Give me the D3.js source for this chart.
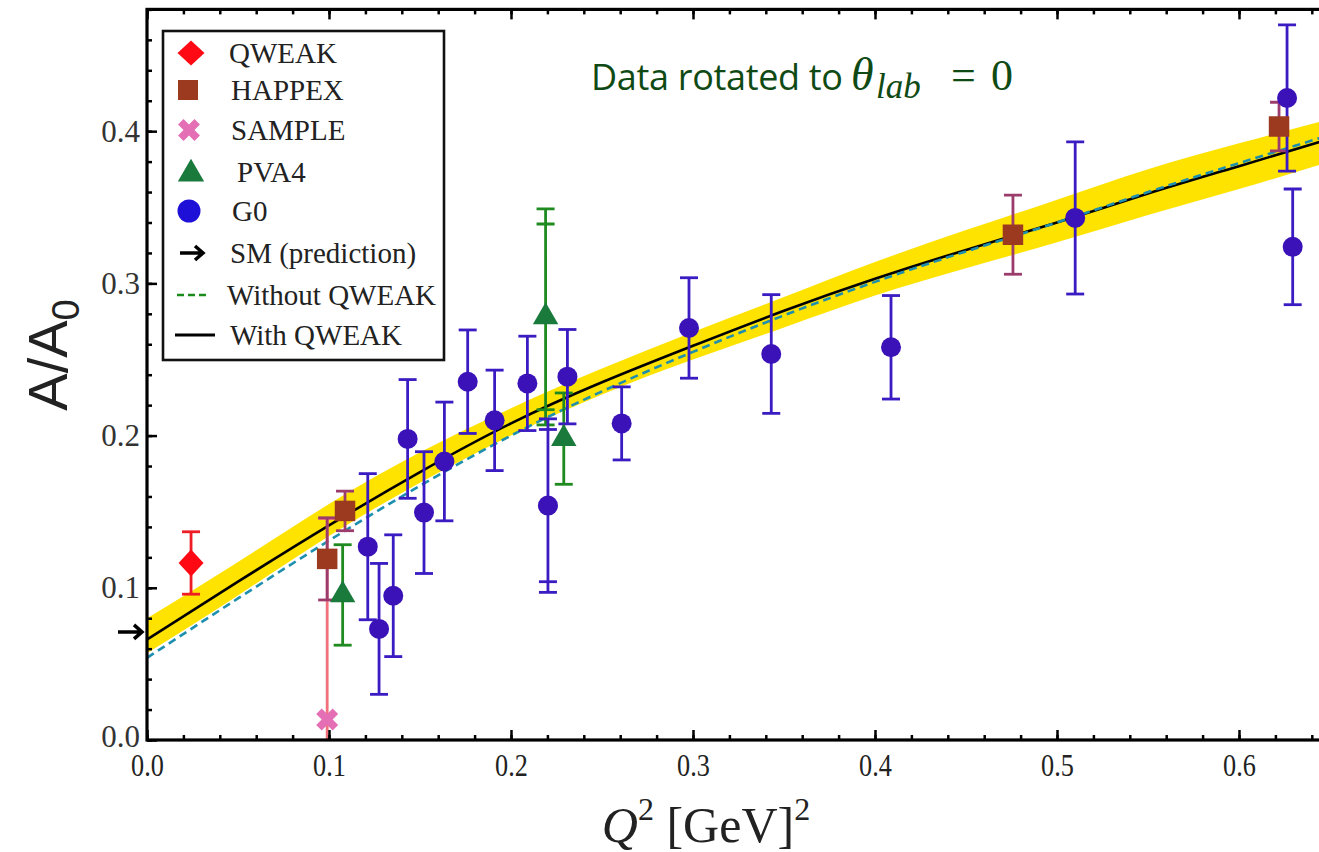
<!DOCTYPE html>
<html>
<head>
<meta charset="utf-8">
<script src="https://cdn.jsdelivr.net/npm/d3@7"></script>
<style>
  body { margin: 0; background: #fff; }
  svg { display: block; }
</style>
</head>
<body>
<script>
const width = 1319;
const height = 852;

// ---- data ----
const qweakQ2 = [0.0242];
const qweakA = [0.1163];
const qweakErr = [0.0205];

const happexQ2 = [0.099, 0.1088, 0.4758, 0.622];
const happexA = [0.119, 0.1505, 0.332, 0.403];
const happexErr = [0.027, 0.013, 0.026, 0.016];

const sampleQ2 = [0.099];
const sampleA = [0.0135];
const sampleErr = [0.132];

const pva4Q2 = [0.1075, 0.219, 0.229];
const pva4A = [0.0953, 0.278, 0.198];
const pva4Err = [0.033, 0.071, 0.030];
const pva4ErrInner = [null, 0.061, null];

const g0Q2 = [0.1213, 0.1275, 0.1353, 0.1432, 0.1522, 0.1634, 0.1762, 0.191, 0.209,
  0.2203, 0.231, 0.2608, 0.2978, 0.343, 0.4088, 0.51, 0.6264, 0.6295];
const g0A = [0.127, 0.073, 0.0948, 0.1978, 0.1494, 0.183, 0.2354, 0.21, 0.2343,
  0.154, 0.2387, 0.208, 0.2707, 0.2536, 0.258, 0.343, 0.4218, 0.324];
const g0Err = [0.048, 0.043, 0.040, 0.039, 0.040, 0.039, 0.034, 0.033, 0.031,
  0.057, 0.031, 0.024, 0.033, 0.039, 0.034, 0.050, 0.048, 0.038];
const g0ErrInner = [null, null, null, null, null, null, null, null, null,
  0.050, null, null, null, null, null, null, null, null];

const smPrediction = 0.071;

// fit curves
const curveQ2 = [0, 0.05, 0.1, 0.15, 0.2, 0.25, 0.3, 0.35, 0.4, 0.45, 0.5, 0.55, 0.6, 0.65];
const withQweak = [0.066, 0.104, 0.141, 0.176, 0.208, 0.235, 0.259, 0.282, 0.303, 0.322, 0.340, 0.359, 0.377, 0.395];
const withoutQweak = [0.054, 0.093, 0.131, 0.167, 0.200, 0.229, 0.255, 0.279, 0.301, 0.321, 0.340, 0.360, 0.379, 0.3975];
const bandUpper = [0.080, 0.117, 0.155, 0.189, 0.218, 0.244, 0.268, 0.291, 0.314, 0.335, 0.355, 0.375, 0.392, 0.408];
const bandLower = [0.057, 0.095, 0.134, 0.169, 0.200, 0.227, 0.250, 0.271, 0.292, 0.310, 0.327, 0.345, 0.362, 0.380];

const xMajor = [0, 0.1, 0.2, 0.3, 0.4, 0.5, 0.6];
const yMajor = [0, 0.1, 0.2, 0.3, 0.4];

// ---- layout ----
const x = d3.scaleLinear().domain([0, 0.65]).range([147, 1330]);
const y = d3.scaleLinear().domain([0, 0.48]).range([740, 9.4]);

const svg = d3.select("body").append("svg")
  .attr("width", width)
  .attr("height", height);

svg.append("defs").append("clipPath").attr("id", "plot")
  .append("rect")
  .attr("x", x(0)).attr("y", y(0.48))
  .attr("width", x(0.65) - x(0)).attr("height", y(0) - y(0.48));

const plot = svg.append("g").attr("clip-path", "url(#plot)");

const pts = (q, v) => q.map((d, i) => [d, v[i]]);

// band
plot.append("path")
  .datum(curveQ2.map((q, i) => [q, bandLower[i], bandUpper[i]]))
  .attr("fill", "#ffe300")
  .attr("d", d3.area()
    .x(d => x(d[0])).y0(d => y(d[1])).y1(d => y(d[2]))
    .curve(d3.curveNatural));

const line = d3.line().x(d => x(d[0])).y(d => y(d[1])).curve(d3.curveNatural);

plot.append("path")
  .datum(pts(curveQ2, withQweak))
  .attr("fill", "none")
  .attr("stroke", "#000")
  .attr("stroke-width", 2.6)
  .attr("d", line);

plot.append("path")
  .datum(pts(curveQ2, withoutQweak))
  .attr("fill", "none")
  .attr("stroke", "#1f8fae")
  .attr("stroke-width", 2.6)
  .attr("stroke-dasharray", "8,5")
  .attr("d", line);

// error bars
function errorBars(q, v, e, inner, color) {
  const g = plot.append("g")
    .attr("stroke", color)
    .attr("stroke-width", 2.8)
    .attr("fill", "none");
  q.forEach((qq, i) => {
    const cx = x(qq);
    const top = v[i] + e[i];
    const bot = v[i] - e[i];
    g.append("line")
      .attr("x1", cx).attr("x2", cx)
      .attr("y1", y(Math.max(bot, -0.01))).attr("y2", y(top));
    const caps = [top];
    if (bot > 0) caps.push(bot);
    if (inner && inner[i]) { caps.push(v[i] + inner[i], v[i] - inner[i]); }
    caps.forEach(c => {
      g.append("line")
        .attr("x1", cx - 9).attr("x2", cx + 9)
        .attr("y1", y(c)).attr("y2", y(c));
    });
  });
}

const diamond = (w, h) => `M0,${-h / 2}L${w / 2},0L0,${h / 2}L${-w / 2},0Z`;

errorBars(sampleQ2, sampleA, sampleErr, null, "#f2707c");
errorBars(qweakQ2, qweakA, qweakErr, null, "#ee1c24");
errorBars(happexQ2, happexA, happexErr, null, "#9b3c6c");
errorBars(pva4Q2, pva4A, pva4Err, pva4ErrInner, "#1f8a1f");
errorBars(g0Q2, g0A, g0Err, g0ErrInner, "#3a1cc2");

// markers
plot.append("g").selectAll("path")
  .data(pts(sampleQ2, sampleA))
  .join("path")
  .attr("transform", d => `translate(${x(d[0])},${y(d[1])}) rotate(45)`)
  .attr("fill", "#e46fb4")
  .attr("d", d3.symbol(d3.symbolCross, 300));

plot.append("g").selectAll("path")
  .data(pts(qweakQ2, qweakA))
  .join("path")
  .attr("transform", d => `translate(${x(d[0])},${y(d[1])})`)
  .attr("fill", "#ff0a14")
  .attr("d", diamond(25, 27));

plot.append("g").selectAll("path")
  .data(pts(happexQ2, happexA))
  .join("path")
  .attr("transform", d => `translate(${x(d[0])},${y(d[1])})`)
  .attr("fill", "#9c3a20")
  .attr("d", d3.symbol(d3.symbolSquare, 420));

plot.append("g").selectAll("path")
  .data(pts(pva4Q2, pva4A))
  .join("path")
  .attr("transform", d => `translate(${x(d[0])},${y(d[1])})`)
  .attr("fill", "#1a7a3c")
  .attr("d", d3.symbol(d3.symbolTriangle, 280));

plot.append("g").selectAll("circle")
  .data(pts(g0Q2, g0A))
  .join("circle")
  .attr("cx", d => x(d[0]))
  .attr("cy", d => y(d[1]))
  .attr("r", 10)
  .attr("fill", "#3a12b8");

// ---- axes ----
const serif = "'Liberation Serif', 'Times New Roman', serif";

function styleAxis(g) {
  g.select(".domain").remove();
  g.selectAll(".tick line").attr("stroke", "#000").attr("stroke-width", 2.5);
}

const xMinor = d3.range(0, 0.651, 0.02);
const yMinor = d3.range(0, 0.481, 0.02);

svg.append("g")
  .attr("transform", `translate(0,${y(0)})`)
  .call(d3.axisBottom(x).tickValues(xMinor).tickSize(-5).tickFormat(""))
  .call(styleAxis);
svg.append("g")
  .attr("transform", `translate(0,${y(0)})`)
  .call(d3.axisBottom(x).tickValues(xMajor).tickSize(-10).tickPadding(13).tickFormat(d3.format(".1f")))
  .call(styleAxis)
  .call(g => g.selectAll("text")
    .attr("font-family", serif).attr("font-size", 32).attr("fill", "#222")
    .attr("transform", "scale(0.82,1)"));

svg.append("g")
  .attr("transform", `translate(0,${y(0.48)})`)
  .call(d3.axisTop(x).tickValues(xMinor).tickSize(-5).tickFormat(""))
  .call(styleAxis);
svg.append("g")
  .attr("transform", `translate(0,${y(0.48)})`)
  .call(d3.axisTop(x).tickValues(xMajor).tickSize(-10).tickFormat(""))
  .call(styleAxis);

svg.append("g")
  .attr("transform", `translate(${x(0)},0)`)
  .call(d3.axisLeft(y).tickValues(yMinor).tickSize(-5).tickFormat(""))
  .call(styleAxis);
svg.append("g")
  .attr("transform", `translate(${x(0)},0)`)
  .call(d3.axisLeft(y).tickValues(yMajor).tickSize(-10).tickPadding(7).tickFormat(d3.format(".1f")))
  .call(styleAxis)
  .call(g => g.selectAll("text")
    .attr("font-family", serif).attr("font-size", 31).attr("fill", "#333"))
  .call(g => g.selectAll(".tick").filter(d => d === 0).select("text").attr("dy", "0.2em"));

// frame
svg.append("rect")
  .attr("x", x(0)).attr("y", y(0.48))
  .attr("width", x(0.65) - x(0)).attr("height", y(0) - y(0.48))
  .attr("fill", "none")
  .attr("stroke", "#000")
  .attr("stroke-width", 3.2);

// SM arrow
const smY = y(smPrediction);
svg.append("path")
  .attr("d", `M${x(0) - 29},${smY}H${x(0) - 5}M${x(0) - 13},${smY - 7}L${x(0) - 5},${smY}L${x(0) - 13},${smY + 7}`)
  .attr("fill", "none")
  .attr("stroke", "#000")
  .attr("stroke-width", 3.5);

// axis titles
svg.append("text")
  .attr("transform", "translate(67,355) rotate(-90)")
  .attr("text-anchor", "middle")
  .attr("font-family", "'Liberation Sans', Arial, sans-serif")
  .attr("font-size", 56)
  .attr("fill", "#222")
  .call(t => {
    t.append("tspan").text("A/A");
    t.append("tspan").attr("font-size", 38).attr("dy", 12).text("0");
  });

svg.append("text")
  .attr("x", 706)
  .attr("y", 842)
  .attr("text-anchor", "middle")
  .attr("font-family", serif)
  .attr("font-size", 50)
  .attr("fill", "#222")
  .call(t => {
    t.append("tspan").attr("font-style", "italic").text("Q");
    t.append("tspan").attr("font-size", 32).attr("dy", -22).text("2");
    t.append("tspan").attr("dy", 22).text(" [GeV]");
    t.append("tspan").attr("font-size", 32).attr("dy", -22).text("2");
  });

// annotation
svg.append("text")
  .attr("x", 591)
  .attr("y", 90)
  .attr("font-family", "'Open Sans', sans-serif")
  .attr("font-size", 36)
  .attr("fill", "#0f4a14")
  .call(t => {
    t.append("tspan").attr("textLength", 252).text("Data rotated to");
    t.append("tspan").attr("x", 851).attr("font-family", serif).attr("font-style", "italic").attr("font-size", 46).text("θ");
    t.append("tspan").attr("x", 876).attr("font-family", serif).attr("font-style", "italic").attr("font-size", 35).attr("dy", 8).text("lab");
    t.append("tspan").attr("x", 951).attr("font-family", serif).attr("font-size", 44).attr("dy", -8).text("=");
    t.append("tspan").attr("x", 991).attr("font-family", serif).attr("font-size", 44).text("0");
  });

// ---- legend ----
const legend = svg.append("g");
legend.append("rect")
  .attr("x", 163).attr("y", 31)
  .attr("width", 281).attr("height", 329)
  .attr("fill", "#fff")
  .attr("stroke", "#111")
  .attr("stroke-width", 2.6);

const legendNames = ["QWEAK", "HAPPEX", "SAMPLE", "PVA4", "G0", "SM (prediction)", "Without QWEAK", "With QWEAK"];
const legendRowY = [53, 90, 130, 172, 211, 253, 295, 335];
const legendTextX = [229, 231, 231, 237, 232, 230, 227, 230];

legendNames.forEach((name, i) => {
  const cy = legendRowY[i];
  const g = legend.append("g");
  if (i === 0) g.append("path").attr("transform", `translate(191,${cy})`).attr("fill", "#ff0a14").attr("d", diamond(27, 25));
  if (i === 1) g.append("path").attr("transform", `translate(188,${cy})`).attr("fill", "#9c3a20").attr("d", d3.symbol(d3.symbolSquare, 400));
  if (i === 2) g.append("path").attr("transform", `translate(189,${cy}) rotate(45)`).attr("fill", "#e46fb4").attr("d", d3.symbol(d3.symbolCross, 300));
  if (i === 3) g.append("path").attr("transform", `translate(191,${cy + 2})`).attr("fill", "#1a7a3c").attr("d", d3.symbol(d3.symbolTriangle, 300));
  if (i === 4) g.append("circle").attr("cx", 189).attr("cy", cy).attr("r", 11.5).attr("fill", "#1f10d8");
  if (i === 5) g.append("path")
    .attr("d", `M180,${cy}H203M195,${cy - 7}L203,${cy}L195,${cy + 7}`)
    .attr("fill", "none").attr("stroke", "#000").attr("stroke-width", 3.5);
  if (i === 6) g.append("line").attr("x1", 177).attr("x2", 210).attr("y1", cy).attr("y2", cy)
    .attr("stroke", "#1a8a1a").attr("stroke-width", 2.6).attr("stroke-dasharray", "7,4");
  if (i === 7) g.append("line").attr("x1", 175).attr("x2", 215).attr("y1", cy).attr("y2", cy)
    .attr("stroke", "#000").attr("stroke-width", 2.8);
  g.append("text")
    .attr("x", legendTextX[i])
    .attr("y", cy + 10)
    .attr("font-family", serif)
    .attr("font-size", 29)
    .attr("fill", "#222")
    .text(name);
});
</script>
</body>
</html>
